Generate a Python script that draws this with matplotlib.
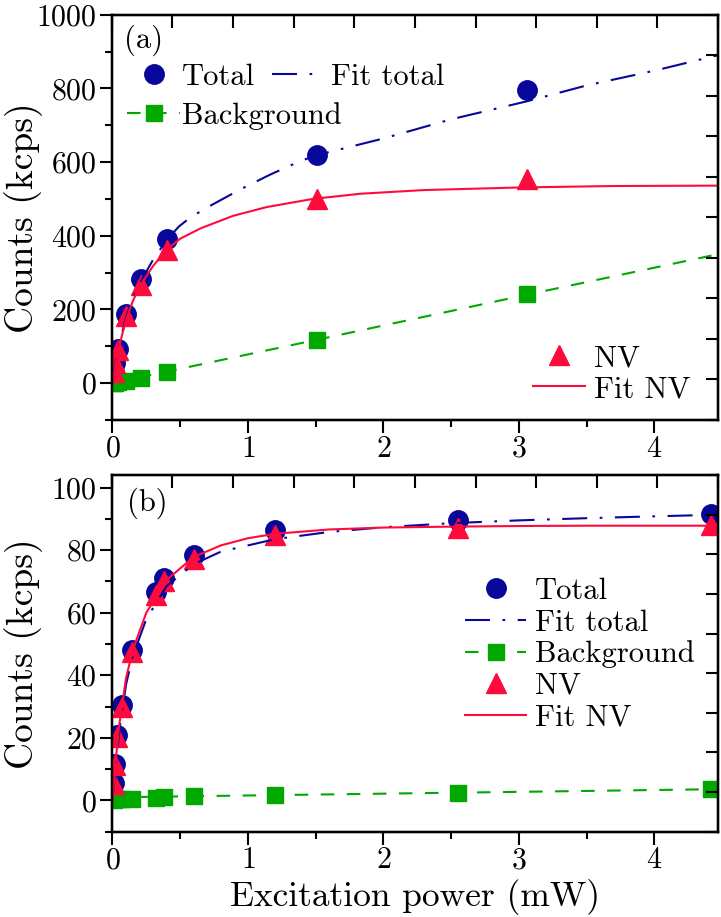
import numpy as np
import matplotlib
matplotlib.use("Agg")
import matplotlib.pyplot as plt
from matplotlib.ticker import MultipleLocator, FixedLocator, NullFormatter

plt.rcParams['font.family'] = ['cmr10', 'DejaVu Serif']
plt.rcParams['mathtext.fontset'] = 'cm'
plt.rcParams['axes.formatter.use_mathtext'] = True
plt.rcParams['axes.unicode_minus'] = False

# ---- panel (a) data ----
x_a = [0.01, 0.02, 0.04, 0.10, 0.21, 0.40, 1.51, 3.06]
total_a = [30, 55, 92, 188, 282, 392, 618, 795]
bg_a = [0, 1, 2, 5, 15, 30, 117, 242]
nv_a = [30, 54, 90, 183, 267, 362, 501, 553]

fit_total_a_x = [0, 0.02, 0.05, 0.1, 0.15, 0.2, 0.3, 0.4, 0.49, 0.58, 0.72, 0.95, 1.17, 1.37, 1.5, 2.0, 2.5, 3.06, 3.5, 4.0, 4.47]
fit_total_a_y = [0, 50, 105, 178, 230, 270, 335, 388, 425, 451, 481, 527, 567, 600, 618, 664, 716, 765, 808, 848, 890]
fit_nv_a_x = [0, 0.02, 0.05, 0.1, 0.15, 0.2, 0.3, 0.4, 0.5, 0.65, 0.89, 1.14, 1.48, 1.83, 2.3, 3.0, 3.7, 4.47]
fit_nv_a_y = [0, 45, 100, 172, 222, 262, 318, 362, 392, 420, 454, 478, 500, 514, 524, 531, 535, 536]
fit_bg_a_x = [0, 1.5, 3.06, 4.47]
fit_bg_a_y = [0, 117, 240, 350]

# ---- panel (b) data ----
x_b = [0.01, 0.02, 0.035, 0.07, 0.145, 0.32, 0.38, 0.60, 1.20, 2.55, 4.42]
total_b = [5.5, 11.5, 20.8, 30.5, 48.0, 66.5, 71.0, 78.5, 86.5, 89.5, 91.5]
bg_b = [0.2, 0.3, 0.4, 0.5, 0.6, 0.8, 1.0, 1.5, 1.7, 2.3, 3.5]
nv_b = [5.3, 11.2, 20.4, 30.0, 47.4, 65.7, 70.0, 77.0, 84.8, 87.2, 88.0]

fit_total_b_x = [0, 0.02, 0.05, 0.1, 0.15, 0.25, 0.4, 0.6, 0.8, 1.2, 1.6, 2.0, 2.5, 3.0, 3.5, 4.0, 4.47]
fit_total_b_y = [0, 10, 22, 37, 46, 58, 68.5, 75.5, 79.5, 83.5, 85.8, 87.3, 88.6, 89.5, 90.2, 90.8, 91.3]
fit_nv_b_x = [0, 0.02, 0.05, 0.1, 0.15, 0.25, 0.4, 0.6, 0.8, 1.0, 1.2, 1.6, 2.0, 2.5, 3.0, 3.5, 4.47]
fit_nv_b_y = [0, 11, 24, 39, 48, 60, 70.5, 77.8, 81.5, 83.8, 85.2, 86.6, 87.2, 87.5, 87.7, 87.8, 87.8]
fit_bg_b_x = [0, 4.47]
fit_bg_b_y = [1.0, 3.6]

blue = '#07079a'
red = '#ff0a3c'
green = '#00a800'
dashdot = (0, (12, 6, 1.3, 6))
dashed = (0, (6.5, 6))
FS = 22
TFS = 21.5

fig = plt.figure(figsize=(7.21, 9.17), dpi=100)
ax1 = fig.add_axes([0.155, 0.542, 0.841, 0.442])
ax2 = fig.add_axes([0.155, 0.093, 0.841, 0.389])

ms_c, ms_t, ms_s = 14, 15, 12

def draw(ax, x, tot, bg, nv, ftx, fty, fnx, fny, fbx, fby):
    h_tot, = ax.plot(x, tot, 'o', color=blue, ms=ms_c, mec=blue, zorder=3)
    h_nv, = ax.plot(x, nv, '^', color=red, ms=ms_t, mec=red, zorder=4)
    ax.plot(x, bg, 's', color=green, ms=ms_s, mec=green, zorder=3)
    h_ft, = ax.plot(ftx, fty, color=blue, lw=1.5, ls=dashdot, zorder=5)
    h_fn, = ax.plot(fnx, fny, color=red, lw=1.5, zorder=5)
    ax.plot(fbx, fby, color=green, lw=1.5, ls=dashed, zorder=2)
    h_bg, = ax.plot([], [], color=green, lw=1.5, ls=dashed, marker='s', ms=ms_s)
    return h_tot, h_ft, h_bg, h_nv, h_fn

def style(ax, ymaj, ymin, ylim, nright):
    ax.set_xlim(-0.005, 4.47)
    ax.set_ylim(*ylim)
    ax.xaxis.set_major_locator(MultipleLocator(1))
    ax.xaxis.set_minor_locator(MultipleLocator(0.5))
    ax.yaxis.set_major_locator(FixedLocator(ymaj))
    ax.yaxis.set_minor_locator(FixedLocator(ymin))
    ax.tick_params(which='major', direction='out', length=9, width=1.5, labelsize=TFS, pad=2)
    ax.tick_params(which='minor', direction='out', length=5, width=1.5)
    for s in ax.spines.values():
        s.set_linewidth(1.6)
    ax.set_ylabel('Counts (kcps)', fontsize=27, va='center')
    ax.yaxis.set_label_coords(-0.146, 0.5)
    # independent top/right tick scales
    tx = ax.twiny()
    tx.set_xlim(0, 10)
    tx.xaxis.set_major_locator(MultipleLocator(1))
    tx.xaxis.set_major_formatter(NullFormatter())
    tx.tick_params(direction='in', length=9, width=1.5)
    ty = ax.twinx()
    ty.set_ylim(0, nright)
    ty.yaxis.set_major_locator(MultipleLocator(1))
    ty.yaxis.set_major_formatter(NullFormatter())
    ty.tick_params(direction='in', length=9, width=1.5)
    for t in (tx, ty):
        for s in t.spines.values():
            s.set_linewidth(1.6)
    return ty

def leg(ax, hs, labels, x, y, hl, pad, sp):
    lg = ax.legend(hs, labels, loc='upper left', bbox_to_anchor=(x, y), frameon=False,
                   fontsize=FS, handlelength=hl, handletextpad=pad, labelspacing=sp,
                   borderpad=0, borderaxespad=0)
    return lg

h = draw(ax1, x_a, total_a, bg_a, nv_a, fit_total_a_x, fit_total_a_y,
         fit_nv_a_x, fit_nv_a_y, fit_bg_a_x, fit_bg_a_y)
ty1 = style(ax1, np.arange(0, 1001, 200), np.arange(-100, 1000, 200), (-100, 1000), 10)
l1 = leg(ty1, [h[0], h[2]], ['Total', 'Background'], 0.025, 0.879, 1.75, 0.05, 0.35)
ty1.add_artist(l1)
l2 = leg(ty1, [h[1]], ['Fit total'], 0.264, 0.879, 1.55, 0.4, 0.35)
ty1.add_artist(l2)
leg(ty1, [h[3], h[4]], ['NV', 'Fit NV'], 0.695, 0.186, 1.7, 0.3, 0.12)
ax1.text(0.02, 0.975, '(a)', transform=ax1.transAxes, fontsize=FS, va='top', ha='left')

h = draw(ax2, x_b, total_b, bg_b, nv_b, fit_total_b_x, fit_total_b_y,
         fit_nv_b_x, fit_nv_b_y, fit_bg_b_x, fit_bg_b_y)
ty2 = style(ax2, np.arange(0, 101, 20), np.arange(-10, 100, 20), (-10, 104), 9)
leg(ty2, list(h), ['Total', 'Fit total', 'Background', 'NV', 'Fit NV'],
    0.5825, 0.712, 2.0, 0.3, 0.13)
ax2.text(0.025, 0.965, '(b)', transform=ax2.transAxes, fontsize=FS, va='top', ha='left')
ax2.set_xlabel('Excitation power (mW)', fontsize=25.5, labelpad=3)

fig.savefig('out.png', dpi=100)
